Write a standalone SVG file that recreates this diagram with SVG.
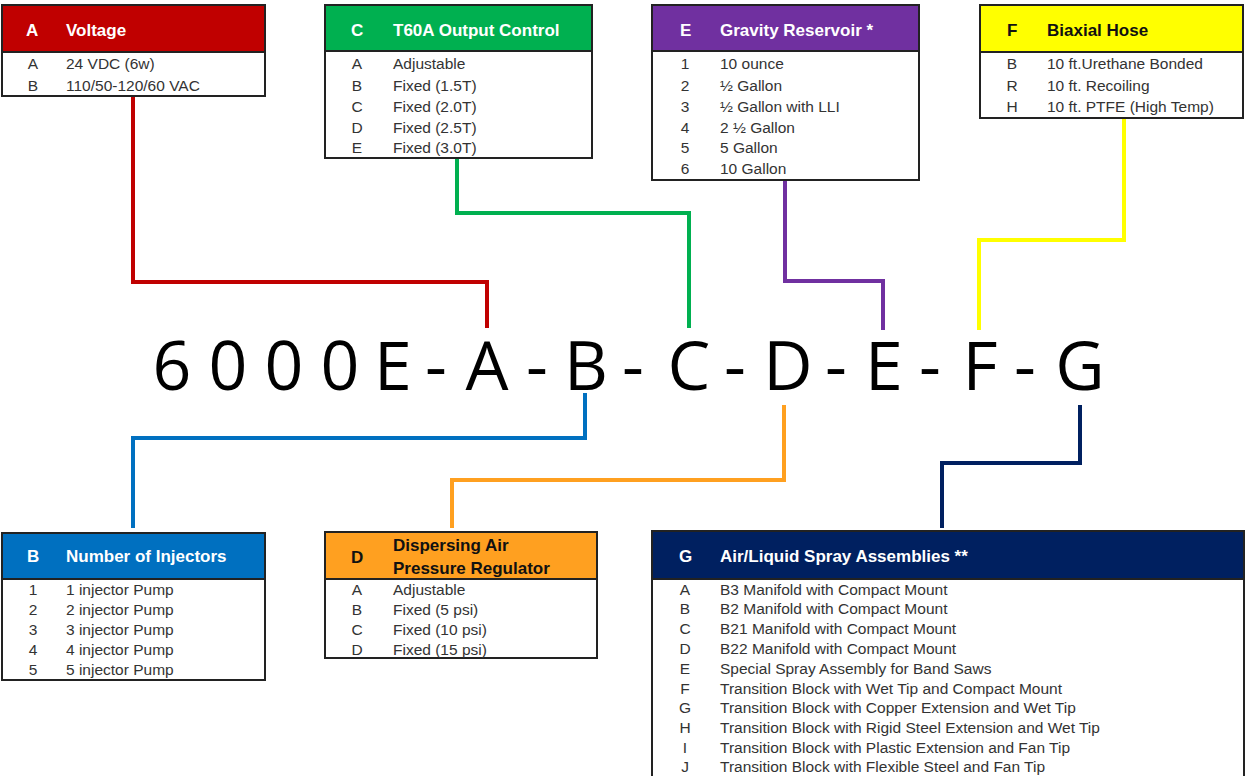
<svg xmlns="http://www.w3.org/2000/svg" width="1247" height="776" viewBox="0 0 1247 776">
<style>
.box{fill:#fff;stroke:#222;stroke-width:2}
.hd{stroke:#222;stroke-width:2}
.ht{font-family:"Liberation Sans",Arial,sans-serif;font-weight:bold;font-size:17px;fill:#fff}
.htd{font-family:"Liberation Sans",Arial,sans-serif;font-weight:bold;font-size:17px;fill:#111}
.t{font-family:"Liberation Sans",Arial,sans-serif;font-size:15.5px;fill:#333}
.k{font-family:"Liberation Sans",Arial,sans-serif;font-size:15.5px;fill:#333;text-anchor:middle}
.big{font-family:"Open Sans","Liberation Sans",sans-serif;font-size:68px;fill:#000;text-anchor:middle}
.c{fill:none;stroke-width:4}
</style>
<rect width="1247" height="776" fill="#fff"/>
<g id="connectors">
<polyline class="c" stroke="#C00000" points="133,96 133,282 487,282 487,328"/>
<polyline class="c" stroke="#00B050" points="457,158 457,213 689,213 689,328"/>
<polyline class="c" stroke="#7030A0" points="785,180 785,281 883,281 883,330"/>
<polyline class="c" stroke="#FFFF00" points="1124,118 1124,240 979,240 979,330"/>
<polyline class="c" stroke="#0070C0" points="585,393 585,438 133,438 133,528"/>
<polyline class="c" stroke="#FFA020" points="784,405 784,480 452,480 452,528"/>
<polyline class="c" stroke="#002060" points="1080,405 1080,463 942,463 942,528"/>
</g>
<g id="code">
<text class="big" x="172" y="390">6</text>
<text class="big" x="228" y="390">0</text>
<text class="big" x="284" y="390">0</text>
<text class="big" x="340" y="390">0</text>
<text class="big" x="393" y="390">E</text>
<text class="big" x="436" y="390">-</text>
<text class="big" x="487" y="390">A</text>
<text class="big" x="537" y="390">-</text>
<text class="big" x="586" y="390">B</text>
<text class="big" x="633" y="390">-</text>
<text class="big" x="689" y="390">C</text>
<text class="big" x="735" y="390">-</text>
<text class="big" x="788" y="390">D</text>
<text class="big" x="836" y="390">-</text>
<text class="big" x="884" y="390">E</text>
<text class="big" x="930" y="390">-</text>
<text class="big" x="980" y="390">F</text>
<text class="big" x="1025" y="390">-</text>
<text class="big" x="1080" y="390">G</text>
</g>
<g id="box-A">
<rect class="box" x="2" y="5" width="263" height="91"/>
<rect class="hd" x="2" y="5" width="263" height="47" fill="#C00000"/>
<text class="ht" x="26" y="36">A</text>
<text class="ht" x="66" y="36">Voltage</text>
<text class="k" x="33" y="69">A</text><text class="t" x="66" y="69">24 VDC (6w)</text>
<text class="k" x="33" y="91">B</text><text class="t" x="66" y="91">110/50-120/60 VAC</text>
</g>
<g id="box-C">
<rect class="box" x="325" y="5" width="267" height="153"/>
<rect class="hd" x="325" y="5" width="267" height="46" fill="#00B050"/>
<text class="ht" x="351" y="36">C</text>
<text class="ht" x="393" y="36">T60A Output Control</text>
<text class="k" x="357" y="69">A</text><text class="t" x="393" y="69">Adjustable</text>
<text class="k" x="357" y="91">B</text><text class="t" x="393" y="91">Fixed (1.5T)</text>
<text class="k" x="357" y="112">C</text><text class="t" x="393" y="112">Fixed (2.0T)</text>
<text class="k" x="357" y="133">D</text><text class="t" x="393" y="133">Fixed (2.5T)</text>
<text class="k" x="357" y="153">E</text><text class="t" x="393" y="153">Fixed (3.0T)</text>
</g>
<g id="box-E">
<rect class="box" x="652" y="5" width="267" height="175"/>
<rect class="hd" x="652" y="5" width="267" height="46" fill="#7030A0"/>
<text class="ht" x="680" y="36">E</text>
<text class="ht" x="720" y="36">Gravity Reservoir *</text>
<text class="k" x="685" y="69">1</text><text class="t" x="720" y="69">10 ounce</text>
<text class="k" x="685" y="91">2</text><text class="t" x="720" y="91">½ Gallon</text>
<text class="k" x="685" y="112">3</text><text class="t" x="720" y="112">½ Gallon with LLI</text>
<text class="k" x="685" y="133">4</text><text class="t" x="720" y="133">2 ½ Gallon</text>
<text class="k" x="685" y="153">5</text><text class="t" x="720" y="153">5 Gallon</text>
<text class="k" x="685" y="174">6</text><text class="t" x="720" y="174">10 Gallon</text>
</g>
<g id="box-F">
<rect class="box" x="980" y="5" width="263" height="113"/>
<rect class="hd" x="980" y="5" width="263" height="47" fill="#FFFF00"/>
<text class="htd" x="1007" y="36">F</text>
<text class="htd" x="1047" y="36">Biaxial Hose</text>
<text class="k" x="1012" y="69">B</text><text class="t" x="1047" y="69">10 ft.Urethane Bonded</text>
<text class="k" x="1012" y="91">R</text><text class="t" x="1047" y="91">10 ft. Recoiling</text>
<text class="k" x="1012" y="112">H</text><text class="t" x="1047" y="112">10 ft. PTFE (High Temp)</text>
</g>
<g id="box-B">
<rect class="box" x="2" y="533" width="263" height="147"/>
<rect class="hd" x="2" y="533" width="263" height="46" fill="#0070C0"/>
<text class="ht" x="27" y="562">B</text>
<text class="ht" x="66" y="562">Number of Injectors</text>
<text class="k" x="33" y="595">1</text><text class="t" x="66" y="595">1 injector Pump</text>
<text class="k" x="33" y="615">2</text><text class="t" x="66" y="615">2 injector Pump</text>
<text class="k" x="33" y="635">3</text><text class="t" x="66" y="635">3 injector Pump</text>
<text class="k" x="33" y="655">4</text><text class="t" x="66" y="655">4 injector Pump</text>
<text class="k" x="33" y="675">5</text><text class="t" x="66" y="675">5 injector Pump</text>
</g>
<g id="box-D">
<rect class="box" x="325" y="532" width="272" height="126"/>
<rect class="hd" x="325" y="532" width="272" height="47" fill="#FFA020"/>
<text class="htd" x="351" y="563">D</text>
<text class="htd" x="393" y="551">Dispersing Air</text>
<text class="htd" x="393" y="574">Pressure Regulator</text>
<text class="k" x="357" y="595">A</text><text class="t" x="393" y="595">Adjustable</text>
<text class="k" x="357" y="615">B</text><text class="t" x="393" y="615">Fixed (5 psi)</text>
<text class="k" x="357" y="635">C</text><text class="t" x="393" y="635">Fixed (10 psi)</text>
<text class="k" x="357" y="655">D</text><text class="t" x="393" y="655">Fixed (15 psi)</text>
</g>
<g id="box-G">
<rect class="box" x="652" y="531" width="592" height="250"/>
<rect class="hd" x="652" y="531" width="592" height="48" fill="#002060"/>
<text class="ht" x="679" y="562">G</text>
<text class="ht" x="720" y="562">Air/Liquid Spray Assemblies **</text>
<text class="k" x="685" y="595">A</text><text class="t" x="720" y="595">B3 Manifold with Compact Mount</text>
<text class="k" x="685" y="614">B</text><text class="t" x="720" y="614">B2 Manifold with Compact Mount</text>
<text class="k" x="685" y="634">C</text><text class="t" x="720" y="634">B21 Manifold with Compact Mount</text>
<text class="k" x="685" y="654">D</text><text class="t" x="720" y="654">B22 Manifold with Compact Mount</text>
<text class="k" x="685" y="674">E</text><text class="t" x="720" y="674">Special Spray Assembly for Band Saws</text>
<text class="k" x="685" y="694">F</text><text class="t" x="720" y="694">Transition Block with Wet Tip and Compact Mount</text>
<text class="k" x="685" y="713">G</text><text class="t" x="720" y="713">Transition Block with Copper Extension and Wet Tip</text>
<text class="k" x="685" y="733">H</text><text class="t" x="720" y="733">Transition Block with Rigid Steel Extension and Wet Tip</text>
<text class="k" x="685" y="753">I</text><text class="t" x="720" y="753">Transition Block with Plastic Extension and Fan Tip</text>
<text class="k" x="685" y="772">J</text><text class="t" x="720" y="772">Transition Block with Flexible Steel and Fan Tip</text>
</g>
</svg>
